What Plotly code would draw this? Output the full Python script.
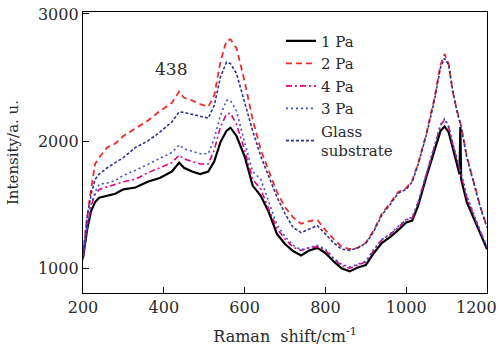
import plotly.graph_objects as go

shift = [200, 205, 210, 220, 230, 240, 260, 280, 300, 330, 360, 390, 420, 438, 450, 470, 490, 510, 525, 540,
         555, 565, 580, 600, 620, 640, 660, 680, 700, 720, 740, 760, 780, 800, 820, 840, 860, 880, 900, 920,
         940, 960, 980, 1000, 1015, 1030, 1050, 1070, 1085, 1095, 1105, 1115, 1125, 1132, 1134, 1136, 1150,
         1170, 1185, 1200]

pa1 = [1080, 1200, 1300, 1450, 1520, 1555, 1570, 1585, 1620, 1635, 1680, 1710, 1760, 1830, 1790, 1760, 1740, 1760, 1840, 1990,
       2080, 2105, 2040, 1880, 1650, 1570, 1440, 1270, 1190, 1135, 1100, 1140, 1160, 1120, 1055, 1000, 975, 1005, 1025, 1120,
       1200, 1245, 1300, 1360, 1375, 1495, 1720, 1925, 2080, 2115, 2070, 1950, 1830, 1740, 2110, 1700, 1520,
       1370, 1250, 1150]

pa2 = [1100, 1250, 1400, 1620, 1820, 1870, 1950, 1980, 2040, 2100, 2160, 2235, 2300, 2390, 2340, 2320, 2290, 2270, 2360, 2620,
       2790, 2800, 2730, 2470, 2170, 1930, 1760, 1600, 1480, 1400, 1350, 1370, 1380, 1300, 1230, 1170, 1150, 1160, 1200, 1300,
       1430, 1510, 1600, 1630, 1690, 1830, 2060, 2340, 2600, 2685, 2610, 2390, 2250, 2170, 2150, 2120, 1880,
       1650, 1470, 1330]

pa4 = [1070, 1200, 1320, 1490, 1580, 1620, 1640, 1660, 1680, 1700, 1750, 1790, 1830, 1890, 1860, 1840, 1820, 1820, 1930, 2110,
       2210, 2220, 2130, 1930, 1700, 1620, 1470, 1310, 1230, 1165, 1140, 1160, 1170, 1140, 1075, 1020, 1000, 1025, 1050, 1140,
       1225, 1265, 1320, 1380, 1395, 1520, 1740, 1950, 2120, 2170, 2110, 1980, 1860, 1780, 1760, 1740, 1560,
       1390, 1270, 1165]

pa3 = [1070, 1200, 1330, 1500, 1600, 1660, 1670, 1690, 1730, 1770, 1815, 1860, 1910, 1970, 1940, 1920, 1900, 1900, 2020, 2200,
       2320, 2320, 2235, 1990, 1760, 1700, 1520, 1340, 1250, 1180, 1145, 1165, 1180, 1150, 1080, 1030, 1010, 1030, 1055, 1150,
       1225, 1270, 1325, 1385, 1400, 1525, 1745, 1960, 2130, 2175, 2120, 1990, 1880, 1790, 1770, 1750, 1570,
       1400, 1280, 1170]

glass = [1080, 1220, 1400, 1580, 1700, 1740, 1790, 1830, 1870, 1950, 2000, 2070, 2150, 2230, 2225, 2210, 2195, 2180, 2280, 2500,
         2620, 2610, 2530, 2300, 2080, 1880, 1720, 1560, 1430, 1320, 1280, 1310, 1335, 1270, 1200, 1150, 1140, 1160, 1195, 1290,
         1420, 1500, 1590, 1620, 1680, 1820, 2050, 2320, 2580, 2650, 2600, 2400, 2240, 2160, 2140, 2110, 1870,
         1640, 1460, 1320]

x_ticks = [200, 400, 600, 800, 1000, 1200]
x_tick_text = ["200", "400", "600", "800", "1000", ""]
last_x_label = "1200"
y_ticks = [1000, 2000, 3000]

names = ["1 Pa", "2 Pa", "4 Pa", "3 Pa", "Glass<br>substrate"]
series = [pa1, pa2, pa4, pa3, glass]
colors = ["#000000", "#ee2a2a", "#e4007f", "#3b4cc8", "#2e3192"]
dashes = ["solid", "6px,4px", "6px,3px,2px,3px", "2px,3px", "3px,2px"]
widths = [2.2, 1.8, 1.6, 1.6, 1.6]

SERIF = "DejaVu Serif"
TXT = "#2a2a2a"

fig = go.Figure()
for n, s, c, d, w in zip(names, series, colors, dashes, widths):
    fig.add_trace(go.Scatter(x=shift, y=s, mode="lines", name=n,
                             line=dict(color=c, dash=d, width=w)))

fig.add_annotation(x=417, y=2570, text="438", showarrow=False,
                   font=dict(size=17, color=TXT, family=SERIF))
# last x tick label kept inside the page (as in the reference)
fig.add_annotation(x=1200, xref="x", y=0, yref="paper", text=last_x_label, showarrow=False,
                   xanchor="right", yanchor="top", xshift=12, yshift=-3,
                   font=dict(size=16, color=TXT, family=SERIF))

axis_common = dict(showline=True, linecolor="black", linewidth=1.3, mirror=True,
                   ticks="inside", ticklen=6, tickcolor="black", showgrid=False, zeroline=False,
                   automargin=False, tickfont=dict(size=16, color=TXT, family=SERIF))

fig.update_layout(
    width=499, height=348,
    margin=dict(l=83, r=12, t=12, b=55),
    plot_bgcolor="white", paper_bgcolor="white",
    font=dict(family=SERIF, color=TXT),
    xaxis=dict(range=[200, 1200], tickvals=x_ticks, ticktext=x_tick_text,
               title=dict(text="Raman  shift/cm<sup>-1</sup>", font=dict(size=16, family=SERIF, color=TXT), standoff=14),
               **axis_common),
    yaxis=dict(range=[805, 3015], tickvals=y_ticks,
               title=dict(text="Intensity/a. u.", font=dict(size=15, family=SERIF, color=TXT), standoff=15),
               **axis_common),
    legend=dict(x=0.49, y=0.955, xanchor="left", yanchor="top", bgcolor="rgba(0,0,0,0)",
                font=dict(size=15, family=SERIF, color=TXT),
                tracegroupgap=0, itemwidth=30),
    showlegend=True,
)

fig.write_html("out.html")
